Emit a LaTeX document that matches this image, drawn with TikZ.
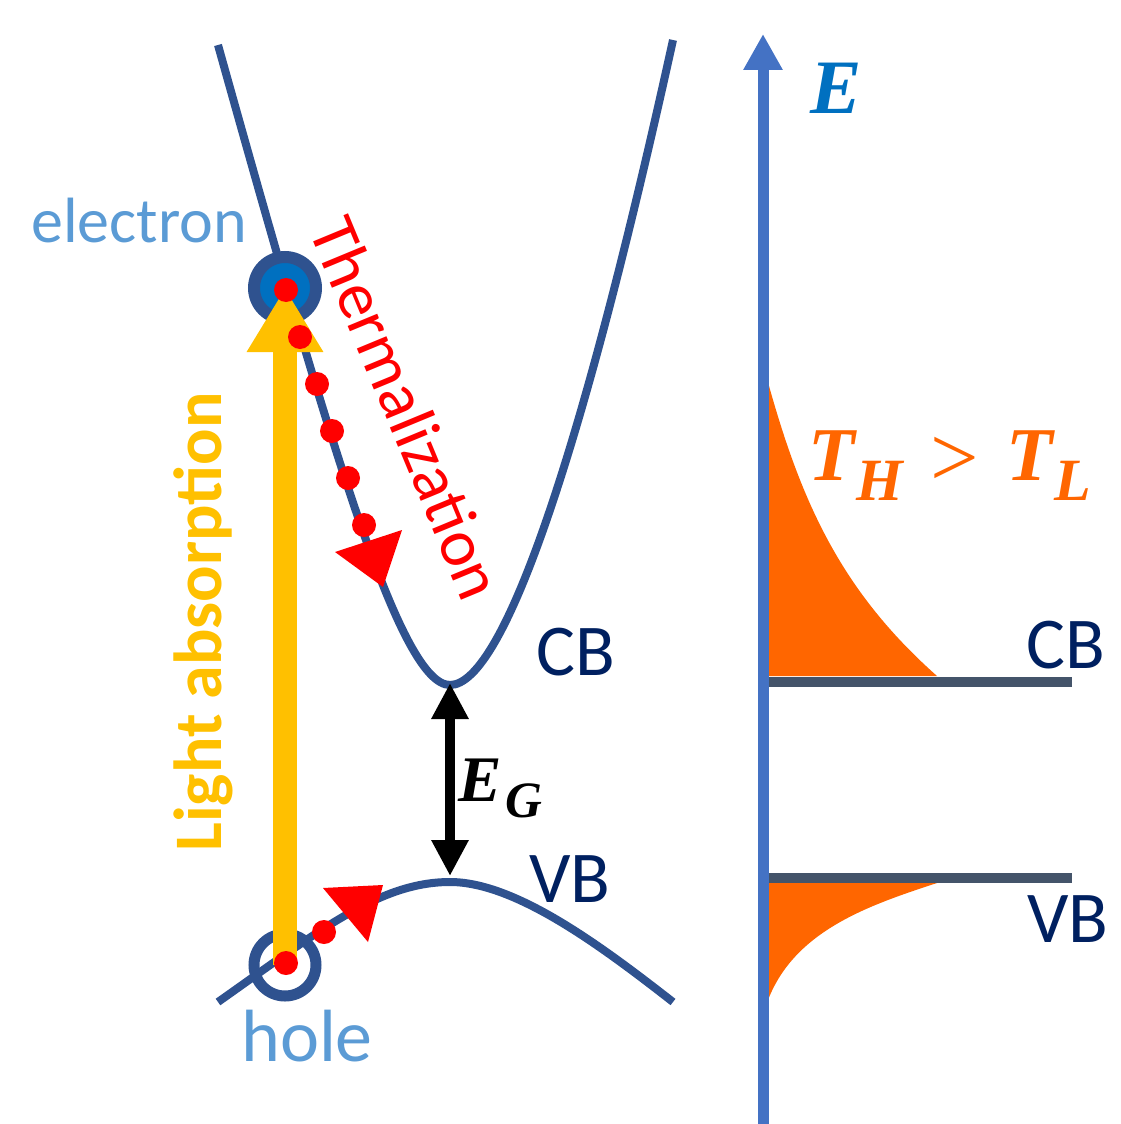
\documentclass[tikz,border=0pt]{standalone}
\usepackage{fontspec}
\newfontfamily\calib{Carlito}
\newfontfamily\mathser{Liberation Serif}
\usetikzlibrary{arrows.meta}
\definecolor{bandblue}{HTML}{2F528F}
\definecolor{elblue}{HTML}{0070C0}
\definecolor{lblblue}{HTML}{5B9BD5}
\definecolor{navy}{HTML}{002060}
\definecolor{lightyel}{HTML}{FFC000}
\definecolor{axisblue}{HTML}{4472C4}
\definecolor{levelgray}{HTML}{44546A}
\definecolor{hotorange}{HTML}{FF6600}
\definecolor{pured}{HTML}{FF0000}
\tikzset{
  band/.style={draw=bandblue, line width=8pt},
  reddot/.style={circle, fill=pured, minimum size=24pt, inner sep=0pt},
  bandlabel/.style={font={\calib\fontsize{73}{80}\selectfont}, text=navy, inner sep=0pt, anchor=base west},
  level/.style={draw=levelgray, line width=10pt},
  distfill/.style={fill=hotorange},
  mathlbl/.style={inner sep=0pt, anchor=base west},
}
\begin{document}
\begin{tikzpicture}[x=1pt,y=-1pt]
\useasboundingbox (0,0) rectangle (1121,1124);

% ---------- left panel: bands ----------
\draw[band] (218,45) .. controls (330,445) and (400,685) .. (450,685)
            .. controls (505,685) and (585,440) .. (673,40);
\draw[band] (218,1002) .. controls (320,930) and (380,882) .. (450,882)
            .. controls (515,882) and (600,945) .. (673,1002);

% electron and hole
\node[circle, draw=bandblue, line width=12pt, fill=elblue, minimum size=62pt, inner sep=0pt] (el) at (285,288) {};
\node[circle, draw=bandblue, line width=11pt, minimum size=62pt, inner sep=0pt] (hole) at (285,965) {};

% light absorption arrow
\draw[draw=lightyel, line width=24pt, -{Triangle[length=64pt,width=72pt]}] (hole.center) -- (el.center);

% thermalization dots
\node[reddot] (d1) at (286,290) {};
\node[reddot] (d2) at (300,337) {};
\node[reddot] (d3) at (317,384) {};
\node[reddot] (d4) at (332,431) {};
\node[reddot] (d5) at (348,478) {};
\node[reddot] (d6) at (364,525) {};
\fill[pured] (335,552) -- (402,530) -- (383,587) -- cycle;

\node[reddot] (h1) at (286,963) {};
\node[reddot] (h2) at (324,932) {};
\fill[pured] (323,888) -- (383,885) -- (368,942) -- cycle;

% band gap arrow
\coordinate (cbmin) at (450,683);
\coordinate (vbmax) at (450,876);
\draw[line width=10pt, {Triangle[length=36pt,width=35pt]}-{Triangle[length=36pt,width=35pt]}] (cbmin) -- (vbmax);

% labels left
\node[font={\calib\fontsize{64}{70}\selectfont}, text=lblblue, inner sep=0pt, anchor=base west] (elabel) at (31,242) {electron};
\node[font={\calib\fontsize{74}{80}\selectfont}, text=lblblue, inner sep=0pt, anchor=base west] (hlabel) at (241,1061) {hole};
\node[bandlabel] (cbl) at (536,675) {CB};
\node[bandlabel] (vbl) at (529,902) {VB};
\node[font={\calib\fontsize{67}{72}\selectfont}, text=pured, inner sep=0pt, rotate=-67.5] (therm) at (407,408) {Thermalization};
\node[font={\calib\bfseries\fontsize{68}{74}\selectfont}, text=lightyel, inner sep=0pt, rotate=90, anchor=base] (light) at (221,622) {Light absorption};
\node[mathlbl, font={\mathser\fontsize{65}{70}\selectfont\bfseries\itshape}] (eg) at (458,801) {E\hspace{4pt}\raisebox{-16pt}{\fontsize{51}{55}\selectfont G}};

% ---------- right panel ----------
\fill[distfill] (766,375) .. controls (800,500) and (840,590) .. (937,676) -- (766,676) -- cycle;
\fill[distfill] (766,883) -- (937,883) .. controls (870,905) and (795,930) .. (768,1000) -- (766,1000) -- cycle;

\coordinate (cbs) at (763,682);
\coordinate (cbe) at (1072,682);
\coordinate (vbs) at (763,878);
\coordinate (vbe) at (1072,878);
\draw[level] (cbs) -- (cbe);
\draw[level] (vbs) -- (vbe);

\coordinate (axb) at (763,1124);
\coordinate (axt) at (763,34);
\draw[draw=axisblue, line width=11pt, -{Triangle[length=36pt,width=37pt]}] (axb) -- (axt);

\node[mathlbl, font={\mathser\fontsize{77}{80}\selectfont\bfseries\itshape}, text=elblue] (elab) at (810,113) {E};
\node[bandlabel] (cbr) at (1026,668) {CB};
\node[bandlabel] (vbr) at (1027,942) {VB};

\node[mathlbl, font={\mathser\fontsize{76}{80}\selectfont\bfseries\itshape}, text=hotorange] (th) at (808,480) {T\hspace{2pt}\raisebox{-20pt}{\fontsize{60}{60}\selectfont H}};
\node[font={\mathser\fontsize{86}{86}\selectfont}, text=hotorange, inner sep=0pt] (gt) at (955,462) {>};
\node[mathlbl, font={\mathser\fontsize{76}{80}\selectfont\bfseries\itshape}, text=hotorange] (tl) at (1006,480) {T\hspace{2pt}\raisebox{-20pt}{\fontsize{60}{60}\selectfont L}};
\end{tikzpicture}
\end{document}
